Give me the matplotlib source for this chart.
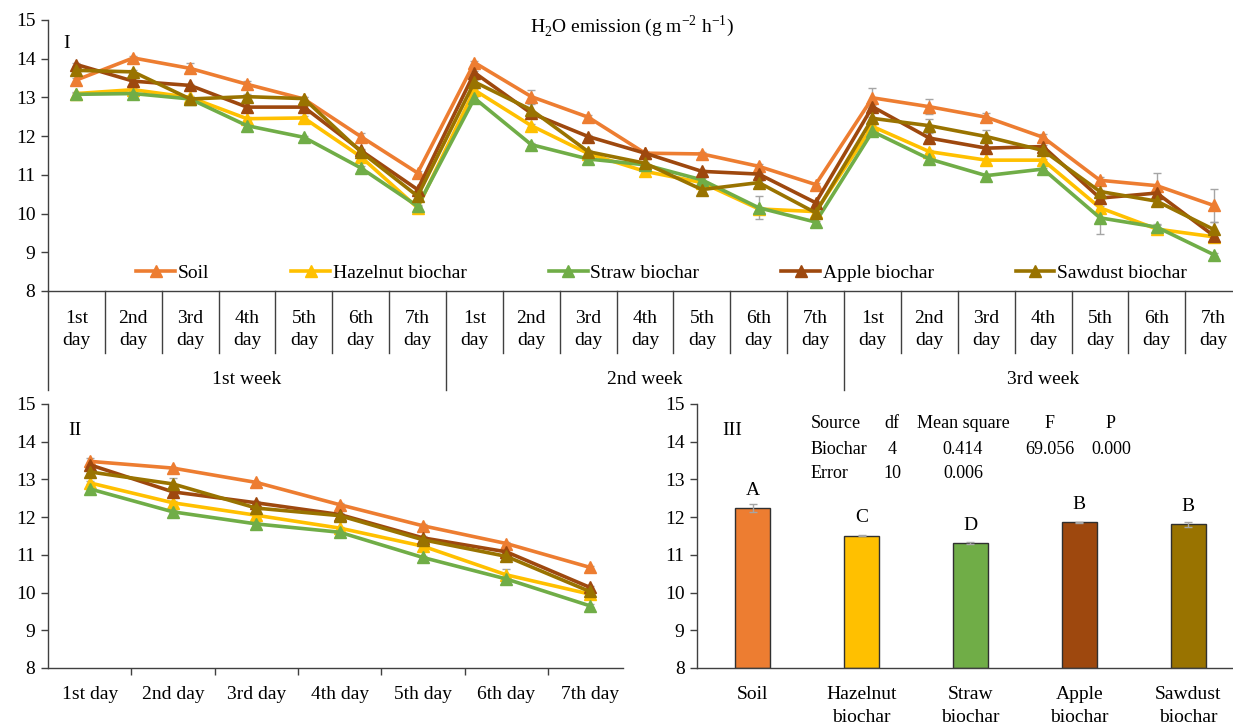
import numpy as np
import matplotlib.pyplot as plt
import matplotlib.transforms as mtransforms

plt.rcParams['font.family'] = ['Liberation Serif', 'DejaVu Serif']
plt.rcParams['mathtext.fontset'] = 'custom'
plt.rcParams['mathtext.rm'] = 'Liberation Serif'
plt.rcParams['font.size'] = 14

# Treatments and colours
treatments = ["Soil", "Hazelnut biochar", "Straw biochar", "Apple biochar", "Sawdust biochar"]
colors = ["#ED7D31", "#FFC000", "#70AD47", "#9E480E", "#997300"]

# Panel I - daily values over 3 weeks
days = ["1st\nday", "2nd\nday", "3rd\nday", "4th\nday", "5th\nday", "6th\nday", "7th\nday"]
weeks = ["1st week", "2nd week", "3rd week"]

soil_daily = [13.45, 14.02, 13.75, 13.34, 12.96, 11.99, 11.05,
              13.90, 13.02, 12.49, 11.56, 11.54, 11.22, 10.75,
              12.99, 12.76, 12.49, 11.97, 10.86, 10.72, 10.21]
hazelnut_daily = [13.10, 13.20, 13.00, 12.45, 12.47, 11.47, 10.15,
                  13.19, 12.27, 11.55, 11.09, 10.80, 10.12, 10.05,
                  12.25, 11.60, 11.38, 11.38, 10.15, 9.60, 9.40]
straw_daily = [13.08, 13.10, 12.96, 12.27, 11.97, 11.18, 10.19,
               12.98, 11.78, 11.41, 11.26, 10.87, 10.15, 9.78,
               12.12, 11.41, 10.98, 11.15, 9.89, 9.65, 8.94]
apple_daily = [13.85, 13.42, 13.31, 12.75, 12.75, 11.63, 10.62,
               13.64, 12.59, 11.99, 11.56, 11.09, 11.02, 10.28,
               12.76, 11.95, 11.69, 11.73, 10.40, 10.53, 9.43]
sawdust_daily = [13.70, 13.66, 12.96, 13.02, 12.97, 11.60, 10.45,
                 13.40, 12.68, 11.60, 11.30, 10.62, 10.80, 10.02,
                 12.46, 12.27, 11.99, 11.63, 10.57, 10.32, 9.59]

soil_daily_err = [0.05, 0.05, 0.13, 0.08, 0.05, 0.08, 0.05,
                  0.05, 0.17, 0.05, 0.05, 0.05, 0.05, 0.05,
                  0.25, 0.20, 0.10, 0.08, 0.08, 0.33, 0.43]
hazelnut_daily_err = [0.04, 0.04, 0.04, 0.04, 0.04, 0.04, 0.04,
                      0.04, 0.04, 0.04, 0.04, 0.04, 0.04, 0.04,
                      0.04, 0.04, 0.04, 0.04, 0.04, 0.10, 0.04]
straw_daily_err = [0.04, 0.04, 0.04, 0.04, 0.04, 0.04, 0.04,
                   0.04, 0.04, 0.04, 0.04, 0.04, 0.30, 0.04,
                   0.04, 0.04, 0.04, 0.04, 0.43, 0.08, 0.04]
apple_daily_err = [0.04, 0.04, 0.04, 0.04, 0.04, 0.04, 0.04,
                   0.04, 0.04, 0.04, 0.04, 0.04, 0.04, 0.04,
                   0.04, 0.04, 0.04, 0.04, 0.04, 0.04, 0.10]
sawdust_daily_err = [0.04, 0.04, 0.04, 0.08, 0.04, 0.04, 0.04,
                     0.04, 0.15, 0.04, 0.04, 0.04, 0.04, 0.04,
                     0.04, 0.18, 0.17, 0.04, 0.04, 0.04, 0.20]

# Panel II - mean of the three weeks per day
day_labels = ["1st day", "2nd day", "3rd day", "4th day", "5th day", "6th day", "7th day"]
soil_day = [13.48, 13.30, 12.92, 12.33, 11.77, 11.30, 10.67]
hazelnut_day = [12.91, 12.38, 12.05, 11.71, 11.23, 10.47, 9.96]
straw_day = [12.75, 12.14, 11.82, 11.60, 10.93, 10.36, 9.65]
apple_day = [13.39, 12.67, 12.38, 12.07, 11.45, 11.08, 10.14]
sawdust_day = [13.20, 12.88, 12.24, 12.04, 11.40, 10.96, 10.03]

soil_day_err = [0.08, 0.04, 0.04, 0.04, 0.04, 0.04, 0.04]
hazelnut_day_err = [0.04, 0.04, 0.04, 0.04, 0.04, 0.16, 0.04]
straw_day_err = [0.04, 0.04, 0.04, 0.04, 0.04, 0.04, 0.04]
apple_day_err = [0.04, 0.04, 0.04, 0.04, 0.04, 0.04, 0.04]
sawdust_day_err = [0.04, 0.17, 0.04, 0.04, 0.04, 0.04, 0.04]

# Panel III - overall means
bar_labels = ["Soil", "Hazelnut\nbiochar", "Straw\nbiochar", "Apple\nbiochar", "Sawdust\nbiochar"]
bar_means = [12.24, 11.51, 11.32, 11.86, 11.81]
bar_err = [0.10, 0.02, 0.02, 0.02, 0.07]
bar_letters = ["A", "C", "D", "B", "B"]

anova_rows = [["Source", "df", "Mean square", "F", "P"],
              ["Biochar", "4", "0.414", "69.056", "0.000"],
              ["Error", "10", "0.006", "", ""]]

daily = [soil_daily, hazelnut_daily, straw_daily, apple_daily, sawdust_daily]
daily_err = [soil_daily_err, hazelnut_daily_err, straw_daily_err, apple_daily_err, sawdust_daily_err]
per_day = [soil_day, hazelnut_day, straw_day, apple_day, sawdust_day]
per_day_err = [soil_day_err, hazelnut_day_err, straw_day_err, apple_day_err, sawdust_day_err]

W, H = 1233, 725
fig = plt.figure(figsize=(W / 100, H / 100), dpi=100)


def px_axes(left, top, right, bottom):
    return fig.add_axes([left / W, 1 - bottom / H, (right - left) / W, (bottom - top) / H])


def style_axes(ax):
    ax.set_ylim(8, 15)
    ax.set_yticks(range(8, 16))
    for s in ["top", "right"]:
        ax.spines[s].set_visible(False)
    for s in ["left", "bottom"]:
        ax.spines[s].set_color("#404040")
        ax.spines[s].set_linewidth(1.0)
    ax.tick_params(axis="y", direction="out", length=5, width=1, color="#404040", pad=4)


err_color = "#A5A5A5"

# ---------------- Panel I ----------------
ax1 = px_axes(48, 20, 1233, 291)
style_axes(ax1)
x1 = np.arange(21)
handles = []
for vals, errs, c, name in zip(daily, daily_err, colors, treatments):
    ax1.errorbar(x1, vals, yerr=errs, fmt="none", ecolor=err_color, elinewidth=1, capsize=3, zorder=2)
    ln, = ax1.plot(x1, vals, "-^", color=c, lw=2.6, ms=9, label=name, zorder=3)
    handles.append(ln)
ax1.set_xlim(-0.5, 20.34)
ax1.set_xticks([])

# multi-level category axis (days / weeks)
trans = mtransforms.blended_transform_factory(ax1.transData, ax1.transAxes)
for k in range(1, 21):
    if k % 7 == 0:
        continue
    ax1.plot([k - 0.5, k - 0.5], [0, -0.229], transform=trans, color="#404040", lw=1, clip_on=False)
for k in range(4):
    ax1.plot([k * 7 - 0.5, k * 7 - 0.5], [0, -0.365], transform=trans, color="#404040", lw=1, clip_on=False)
for i in range(21):
    ax1.text(i, -0.142, days[i % 7], transform=trans, ha="center", va="center", linespacing=1.45)
for w, name in enumerate(weeks):
    ax1.text(w * 7 + 3, -0.325, name, transform=trans, ha="center", va="center")

ax1.text(0.493, 0.978, "H$_\\mathregular{2}$O emission (g m$^\\mathregular{-2}$ h$^\\mathregular{-1}$)",
         transform=ax1.transAxes, ha="center", va="center")
ax1.text(0.013, 0.915, "I", transform=ax1.transAxes, ha="left", va="center")
ax1.legend(handles=handles, loc="center", bbox_to_anchor=(0.518, 0.066), ncol=5, frameon=False,
           handlelength=2.0, handletextpad=0.15, columnspacing=4.2, fontsize=14)

# ---------------- Panel II ----------------
ax2 = px_axes(48, 404, 623, 668)
style_axes(ax2)
x2 = np.arange(7)
for vals, errs, c in zip(per_day, per_day_err, colors):
    ax2.errorbar(x2, vals, yerr=errs, fmt="none", ecolor=err_color, elinewidth=1, capsize=3, zorder=2)
    ax2.plot(x2, vals, "-^", color=c, lw=2.6, ms=9, zorder=3)
ax2.set_xlim(-0.5, 6.4)
ax2.set_xticks(x2)
ax2.set_xticklabels(day_labels)
ax2.set_xticks(np.arange(0.5, 6, 1), minor=True)
ax2.tick_params(axis="x", which="major", length=0, pad=13)
ax2.tick_params(axis="x", which="minor", direction="out", length=5, width=1, color="#404040")
ax2.text(0.035, 0.9, "II", transform=ax2.transAxes, ha="left", va="center")

# ---------------- Panel III ----------------
ax3 = px_axes(697, 404, 1233, 668)
style_axes(ax3)
x3 = np.arange(5)
ax3.bar(x3, np.array(bar_means) - 8, bottom=8, width=0.32, color=colors, edgecolor="#303030", lw=1, zorder=2)
ax3.errorbar(x3, bar_means, yerr=bar_err, fmt="none", ecolor=err_color, elinewidth=1, capsize=3, zorder=3)
for xi, m, letter in zip(x3, bar_means, bar_letters):
    ax3.text(xi, m + 0.47, letter, ha="center", va="center")
ax3.set_xlim(-0.51, 4.41)
ax3.set_xticks(x3)
ax3.set_xticklabels(bar_labels, linespacing=1.45)
ax3.tick_params(axis="x", length=0, pad=13)
ax3.text(0.047, 0.9, "III", transform=ax3.transAxes, ha="left", va="center")

# ANOVA table text
col_x = [811, 892, 963, 1050, 1111]
col_ha = ["left", "center", "center", "center", "center"]
row_y = [424, 449, 473]
for r, row in enumerate(anova_rows):
    for c, cell in enumerate(row):
        if cell:
            fig.text(col_x[c] / W, 1 - row_y[r] / H, cell, ha=col_ha[c], va="center", fontsize=13)

fig.savefig("out.png", dpi=100)
